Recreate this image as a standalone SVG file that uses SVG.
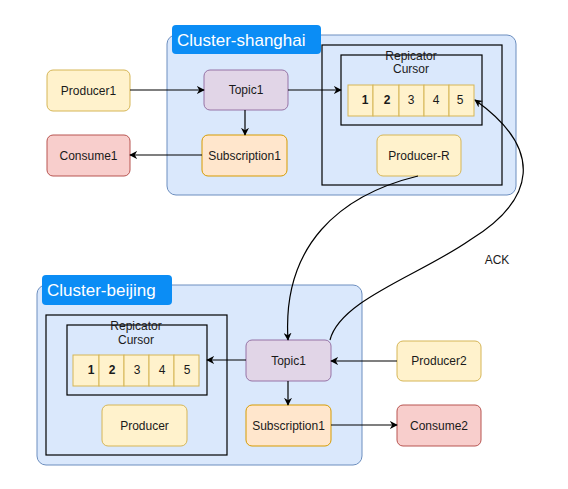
<svg xmlns="http://www.w3.org/2000/svg" width="568" height="489" viewBox="0 0 568 489">
<defs>
<style>
text{font-family:"Liberation Sans",Arial,sans-serif;font-size:12px;fill:#1a1a1a;text-anchor:middle;dominant-baseline:central}
.cluster{fill:#dae8fc;stroke:#6c8ebf;stroke-width:1}
.tab{fill:#0b8df5;stroke:none}
.tabt{fill:#fff;font-size:17px;text-anchor:start}
.blk{fill:none;stroke:#000;stroke-width:1.2}
.topic{fill:#e1d5e7;stroke:#9673a6}
.sub{fill:#ffe6cc;stroke:#d79b00}
.prod{fill:#fff2cc;stroke:#d6b656}
.cons{fill:#f8cecc;stroke:#b85450}
.cell{fill:#fff2cc;stroke:#d6b656}
.b{font-weight:bold}
.ln{fill:none;stroke:#000;stroke-width:1.2}
</style>
<marker id="ar" viewBox="0 0 10 10" refX="9" refY="5" markerWidth="8" markerHeight="8" markerUnits="userSpaceOnUse" orient="auto">
<path d="M0,0 L10,5 L0,10 L3,5 Z" fill="#000"/>
</marker>
</defs>
<rect width="568" height="489" fill="#fff"/>

<g id="cluster-shanghai">
<rect class="cluster" x="167" y="35" width="349" height="160" rx="9"/>
<rect class="tab" x="172" y="25" width="149" height="29" rx="4"/>
<text class="tabt" x="177" y="40">Cluster-shanghai</text>
</g>
<g id="cluster-beijing">
<rect class="cluster" x="37" y="285" width="325" height="180" rx="9"/>
<rect class="tab" x="42" y="275" width="130" height="30" rx="4"/>
<text class="tabt" x="47" y="290">Cluster-beijing</text>
</g>

<g id="repicator-shanghai">
<rect class="blk" x="322" y="45" width="180" height="140"/>
<rect class="blk" x="341" y="55" width="141" height="70"/>
<text x="411" y="56">Repicator</text>
<text x="411" y="69">Cursor</text>
<rect class="cell" x="348" y="85" width="25" height="31"/>
<rect class="cell" x="373" y="85" width="26" height="31"/>
<rect class="cell" x="399" y="85" width="25" height="31"/>
<rect class="cell" x="424" y="85" width="25" height="31"/>
<rect class="cell" x="449" y="85" width="25" height="31"/>
<text class="b" x="365" y="100">1</text>
<text class="b" x="387" y="100">2</text>
<text x="411" y="100">3</text>
<text x="436" y="100">4</text>
<text x="460" y="100">5</text>
</g>
<g id="producer-r">
<rect class="prod" x="377" y="135" width="84" height="41" rx="6"/>
<text x="419" y="155.5">Producer-R</text>
</g>

<g id="repicator-beijing">
<rect class="blk" x="46" y="315" width="181" height="140"/>
<rect class="blk" x="67" y="325" width="140" height="70"/>
<text x="136" y="326">Repicator</text>
<text x="136" y="340">Cursor</text>
<rect class="cell" x="73" y="355" width="26" height="31"/>
<rect class="cell" x="99" y="355" width="25" height="31"/>
<rect class="cell" x="124" y="355" width="25" height="31"/>
<rect class="cell" x="149" y="355" width="25" height="31"/>
<rect class="cell" x="174" y="355" width="25" height="31"/>
<text class="b" x="91" y="370">1</text>
<text class="b" x="112" y="370">2</text>
<text x="137" y="370">3</text>
<text x="162" y="370">4</text>
<text x="187" y="370">5</text>
</g>
<g id="producer-beijing">
<rect class="prod" x="102" y="405" width="85" height="41" rx="6"/>
<text x="144.5" y="425.5">Producer</text>
</g>

<g id="producer1">
<rect class="prod" x="47" y="70" width="83" height="41" rx="6"/>
<text x="88.5" y="90.5">Producer1</text>
</g>
<g id="consume1">
<rect class="cons" x="47" y="135" width="83" height="41" rx="6"/>
<text x="88.5" y="155.5">Consume1</text>
</g>
<g id="topic1-shanghai">
<rect class="topic" x="204" y="70" width="84" height="40" rx="6"/>
<text x="246" y="90">Topic1</text>
</g>
<g id="subscription1-shanghai">
<rect class="sub" x="202" y="135" width="85" height="41" rx="6"/>
<text x="244.5" y="155.5">Subscription1</text>
</g>

<g id="topic1-beijing">
<rect class="topic" x="246" y="340" width="85" height="41" rx="6"/>
<text x="288.5" y="360.5">Topic1</text>
</g>
<g id="subscription1-beijing">
<rect class="sub" x="246" y="405" width="85" height="41" rx="6"/>
<text x="288.5" y="425.5">Subscription1</text>
</g>
<g id="producer2">
<rect class="prod" x="397" y="341" width="84" height="40" rx="6"/>
<text x="439" y="361">Producer2</text>
</g>
<g id="consume2">
<rect class="cons" x="397" y="405" width="84" height="41" rx="6"/>
<text x="439" y="425.5">Consume2</text>
</g>

<g id="connectors">
<path class="ln" d="M130,90 L204,90" marker-end="url(#ar)"/>
<path class="ln" d="M288,90 L341,90" marker-end="url(#ar)"/>
<path class="ln" d="M245,110 L245,135" marker-end="url(#ar)"/>
<path class="ln" d="M202,155 L130,155" marker-end="url(#ar)"/>
<path class="ln" d="M418,176 C340,195 282,245 288,340" marker-end="url(#ar)"/>
<path class="ln" d="M330,340 C340,300 420,275 470,240 C535,200 545,150 475,100" marker-end="url(#ar)"/>
<text x="497" y="260">ACK</text>
<path class="ln" d="M246,360 L207,360" marker-end="url(#ar)"/>
<path class="ln" d="M397,361 L331,361" marker-end="url(#ar)"/>
<path class="ln" d="M288,381 L288,405" marker-end="url(#ar)"/>
<path class="ln" d="M331,425 L397,425" marker-end="url(#ar)"/>
</g>
</svg>
